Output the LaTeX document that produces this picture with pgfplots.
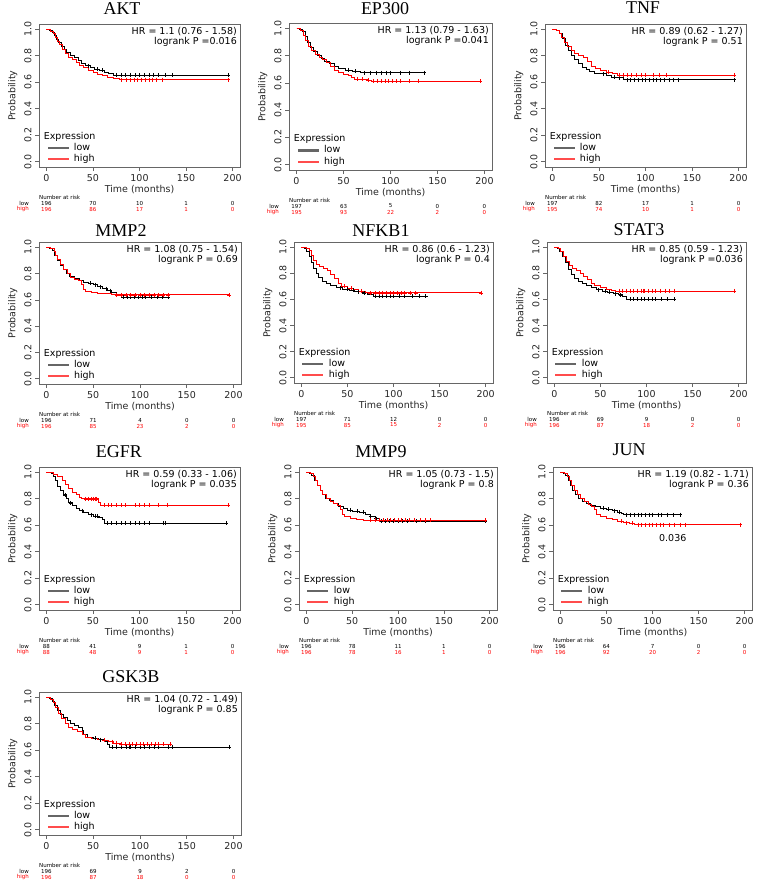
\documentclass[border=0pt]{standalone}
\usepackage{pgfplots}
\pgfplotsset{compat=1.18}
\usepackage{fontspec}
\setmainfont{DejaVu Sans}
\newfontfamily\titlefont{Liberation Serif}
\definecolor{kmred}{RGB}{255,0,0}

\tikzset{
  exprnode/.style={anchor=west, inner sep=0pt, font=\fontsize{9.5}{11}\selectfont},
  hrnode/.style={anchor=north east, align=right, inner sep=0pt, xshift=-3pt, yshift=-3pt, font=\fontsize{9.5}{10.5}\selectfont},
  riskt/.style={inner sep=0pt, font=\fontsize{5.5}{6}\selectfont},
  ttl/.style={inner sep=0pt, font=\titlefont\fontsize{18}{20}\selectfont},
}

\pgfplotsset{
  km/.style={
    scale only axis, anchor=north west, clip=false,
    xmin=-8, xmax=208, ymin=-0.04, ymax=1.04,
    xtick={0,50,100,150,200}, ytick={0,0.2,0.4,0.6,0.8,1},
    tick align=outside, tick pos=left,
    major tick length=4pt,
    axis line style={black!60, line width=0.6pt},
    tick style={black!60, line width=0.6pt},
    /pgf/number format/assume math mode=true,
    tick label style={font=\fontsize{9.5}{11}\selectfont, text=black!85},
    yticklabel style={rotate=90, anchor=south, /pgf/number format/fixed, /pgf/number format/fixed zerofill, /pgf/number format/precision=1},
    xlabel={Time (months)}, ylabel={Probability},
    label style={font=\fontsize{9.5}{11}\selectfont, text=black!85},
    xlabel style={yshift=3pt},
    legend style={at={(axis cs:1,0.065)}, anchor=west, draw=none, fill=none, inner sep=0pt, row sep=-1.5pt, font=\fontsize{9.5}{10}\selectfont, /tikz/every odd column/.append style={column sep=4pt}},
    legend cell align=left,
    legend image code/.code={\fill[#1] (0pt,-0.6pt) rectangle (20pt,0.6pt);},
  },
  lowc/.style={black, line width=0.9pt, const plot, forget plot},
  highc/.style={kmred, line width=0.9pt, const plot, forget plot},
  lowm/.style={black, only marks, mark=+, mark size=2pt, mark options={line width=0.5pt}, forget plot},
  highm/.style={kmred, only marks, mark=+, mark size=2pt, mark options={line width=0.5pt}, forget plot},
}

\newcommand\kmlegend{%
  \addlegendimage{black!60}\addlegendentry{low}
  \addlegendimage{kmred!70}\addlegendentry{high}
}
\newcommand\riskhead{\node[riskt, anchor=west, yshift=-30pt] at (rel axis cs:0,0) {Number at risk};}
\newcommand\risklow[5]{%
  \node[riskt, anchor=east, xshift=-10pt, yshift=-36pt] at (rel axis cs:0,0) {low};
  \node[riskt, yshift=-36pt] at (axis cs:0,-0.04) {#1};
  \node[riskt, yshift=-36pt] at (axis cs:50,-0.04) {#2};
  \node[riskt, yshift=-36pt] at (axis cs:100,-0.04) {#3};
  \node[riskt, yshift=-36pt] at (axis cs:150,-0.04) {#4};
  \node[riskt, yshift=-36pt] at (axis cs:200,-0.04) {#5};
}
\newcommand\riskhigh[5]{%
  \node[riskt, text=kmred, anchor=east, xshift=-10pt, yshift=-42pt] at (rel axis cs:0,0) {high};
  \node[riskt, text=kmred, yshift=-42pt] at (axis cs:0,-0.04) {#1};
  \node[riskt, text=kmred, yshift=-42pt] at (axis cs:50,-0.04) {#2};
  \node[riskt, text=kmred, yshift=-42pt] at (axis cs:100,-0.04) {#3};
  \node[riskt, text=kmred, yshift=-42pt] at (axis cs:150,-0.04) {#4};
  \node[riskt, text=kmred, yshift=-42pt] at (axis cs:200,-0.04) {#5};
}

\begin{document}
\begin{tikzpicture}
\path[use as bounding box] (0pt,0pt) rectangle (768pt,-884pt);

% titles
\node[ttl] at (122pt,-9pt) {AKT};
\node[ttl] at (385pt,-9pt) {EP300};
\node[ttl] at (643pt,-8pt) {TNF};
\node[ttl] at (121pt,-231pt) {MMP2};
\node[ttl] at (381pt,-231pt) {NFKB1};
\node[ttl] at (639pt,-230pt) {STAT3};
\node[ttl] at (119pt,-452pt) {EGFR};
\node[ttl] at (381pt,-452pt) {MMP9};
\node[ttl] at (629pt,-450pt) {JUN};
\node[ttl] at (131pt,-677pt) {GSK3B};

% ---------------- AKT
\begin{axis}[km, at={(39pt,-24pt)}, width=201pt, height=143pt]
\kmlegend
\addplot[lowc] coordinates {(0,1)(3,0.99)(6,0.975)(9,0.95)(11,0.92)(13,0.90)(16,0.87)(19,0.845)(22,0.825)(26,0.805)(30,0.785)(34,0.765)(38,0.745)(42,0.725)(47,0.71)(52,0.70)(57,0.69)(62,0.675)(67,0.665)(72,0.655)(195,0.655)};
\addplot[highc] coordinates {(0,1)(4,0.985)(8,0.97)(10,0.94)(12,0.91)(14,0.885)(17,0.85)(20,0.82)(24,0.79)(28,0.77)(32,0.75)(36,0.73)(40,0.71)(45,0.69)(50,0.675)(55,0.66)(60,0.65)(66,0.64)(72,0.63)(78,0.62)(195,0.62)};
\addplot[lowm] coordinates {(45,0.725)(55,0.70)(60,0.69)(75,0.655)(80,0.655)(85,0.655)(90,0.655)(95,0.655)(100,0.655)(105,0.655)(110,0.655)(115,0.655)(120,0.655)(128,0.655)(135,0.655)(195,0.655)};
\addplot[highm] coordinates {(80,0.62)(86,0.62)(90,0.62)(94,0.62)(98,0.62)(102,0.62)(106,0.62)(110,0.62)(114,0.62)(118,0.62)(124,0.62)(195,0.62)};
\node[exprnode] at (axis cs:-3,0.19) {Expression};
\node[hrnode] at (rel axis cs:1,1) {HR = 1.1 (0.76 - 1.58)\\logrank P =0.016};
\riskhead
\risklow{196}{70}{10}{1}{0}
\riskhigh{196}{86}{17}{1}{0}
\end{axis}

% ---------------- EP300
\begin{axis}[km, at={(289pt,-23pt)}, width=203pt, height=147pt]
\kmlegend
\addplot[lowc] coordinates {(0,1)(3,0.99)(6,0.975)(9,0.94)(12,0.90)(15,0.86)(18,0.83)(22,0.80)(26,0.78)(30,0.76)(35,0.74)(40,0.72)(45,0.705)(52,0.695)(60,0.685)(68,0.675)(136,0.675)};
\addplot[highc] coordinates {(0,1)(4,0.985)(7,0.95)(10,0.91)(13,0.87)(16,0.84)(20,0.81)(24,0.79)(28,0.77)(32,0.75)(36,0.72)(40,0.69)(45,0.675)(50,0.665)(55,0.655)(58,0.64)(62,0.625)(75,0.62)(80,0.613)(195,0.613)};
\addplot[lowm] coordinates {(55,0.695)(62,0.685)(72,0.675)(78,0.675)(85,0.675)(90,0.675)(95,0.675)(100,0.675)(110,0.675)(120,0.675)(136,0.675)};
\addplot[highm] coordinates {(65,0.625)(70,0.625)(76,0.62)(82,0.613)(86,0.613)(90,0.613)(94,0.613)(98,0.613)(102,0.613)(106,0.613)(110,0.613)(120,0.613)(130,0.613)(195,0.613)};
\node[exprnode] at (axis cs:-3,0.19) {Expression};
\node[hrnode] at (rel axis cs:1,1) {HR = 1.13 (0.79 - 1.63)\\logrank P =0.041};
\riskhead
\risklow{197}{63}{5}{0}{0}
\riskhigh{195}{93}{22}{2}{0}
\end{axis}

% ---------------- TNF
\begin{axis}[km, at={(545pt,-24pt)}, width=201pt, height=143pt]
\kmlegend
\addplot[lowc] coordinates {(0,1)(4,0.99)(8,0.97)(11,0.93)(14,0.88)(17,0.84)(20,0.80)(24,0.77)(28,0.74)(32,0.715)(36,0.70)(40,0.685)(45,0.67)(50,0.665)(58,0.655)(63,0.64)(70,0.635)(76,0.62)(195,0.62)};
\addplot[highc] coordinates {(0,1)(4,0.99)(7,0.97)(10,0.94)(13,0.90)(16,0.87)(20,0.84)(24,0.815)(28,0.80)(33,0.785)(38,0.76)(42,0.72)(46,0.705)(52,0.69)(58,0.675)(64,0.665)(70,0.655)(195,0.655)};
\addplot[lowm] coordinates {(55,0.665)(66,0.64)(72,0.635)(80,0.62)(84,0.62)(88,0.62)(92,0.62)(96,0.62)(100,0.62)(104,0.62)(108,0.62)(112,0.62)(116,0.62)(120,0.62)(125,0.62)(130,0.62)(135,0.62)(195,0.62)};
\addplot[highm] coordinates {(60,0.675)(72,0.655)(76,0.655)(80,0.655)(85,0.655)(90,0.655)(95,0.655)(100,0.655)(108,0.655)(115,0.655)(122,0.655)(195,0.655)};
\node[exprnode] at (axis cs:-3,0.19) {Expression};
\node[hrnode] at (rel axis cs:1,1) {HR = 0.89 (0.62 - 1.27)\\logrank P = 0.51};
\riskhead
\risklow{197}{82}{17}{1}{0}
\riskhigh{195}{74}{10}{1}{0}
\end{axis}

% ---------------- MMP2
\begin{axis}[km, at={(39pt,-242pt)}, width=202pt, height=142pt]
\kmlegend
\addplot[lowc] coordinates {(0,1)(3,0.99)(6,0.975)(9,0.94)(12,0.90)(15,0.86)(18,0.83)(21,0.80)(25,0.78)(30,0.76)(35,0.745)(40,0.735)(45,0.725)(50,0.715)(55,0.70)(60,0.685)(65,0.67)(70,0.655)(75,0.64)(80,0.62)(130,0.62)};
\addplot[highc] coordinates {(0,1)(4,0.99)(8,0.97)(10,0.94)(12,0.91)(15,0.87)(18,0.83)(22,0.80)(26,0.77)(30,0.755)(34,0.745)(37,0.72)(39,0.68)(42,0.665)(48,0.655)(55,0.65)(62,0.645)(70,0.638)(195,0.638)};
\addplot[lowm] coordinates {(47,0.725)(52,0.715)(58,0.70)(64,0.685)(68,0.67)(82,0.62)(86,0.62)(90,0.62)(94,0.62)(98,0.62)(102,0.62)(106,0.62)(112,0.62)(118,0.62)(124,0.62)(130,0.62)};
\addplot[highm] coordinates {(75,0.638)(80,0.638)(85,0.638)(90,0.638)(95,0.638)(100,0.638)(105,0.638)(110,0.638)(115,0.638)(120,0.638)(125,0.638)(130,0.638)(195,0.638)};
\node[exprnode] at (axis cs:-3,0.19) {Expression};
\node[hrnode] at (rel axis cs:1,1) {HR = 1.08 (0.75 - 1.54)\\logrank P = 0.69};
\riskhead
\risklow{196}{71}{4}{0}{0}
\riskhigh{196}{85}{23}{2}{0}
\end{axis}

% ---------------- NFKB1
\begin{axis}[km, at={(294pt,-242pt)}, width=199pt, height=141pt]
\kmlegend
\addplot[lowc] coordinates {(0,1)(3,0.99)(6,0.97)(9,0.93)(11,0.88)(13,0.84)(16,0.80)(19,0.77)(23,0.74)(27,0.72)(32,0.705)(38,0.69)(45,0.68)(52,0.67)(58,0.66)(65,0.65)(72,0.64)(78,0.625)(135,0.625)};
\addplot[highc] coordinates {(0,1)(5,0.99)(9,0.975)(11,0.94)(13,0.90)(16,0.87)(20,0.855)(24,0.84)(28,0.82)(32,0.79)(36,0.76)(40,0.72)(44,0.70)(50,0.685)(56,0.675)(62,0.665)(70,0.65)(195,0.65)};
\addplot[lowm] coordinates {(42,0.69)(50,0.68)(56,0.67)(62,0.66)(68,0.65)(80,0.625)(84,0.625)(88,0.625)(92,0.625)(96,0.625)(100,0.625)(106,0.625)(112,0.625)(120,0.625)(128,0.625)(135,0.625)};
\addplot[highm] coordinates {(47,0.70)(54,0.685)(65,0.665)(75,0.65)(80,0.65)(84,0.65)(88,0.65)(92,0.65)(96,0.65)(100,0.65)(104,0.65)(108,0.65)(112,0.65)(118,0.65)(124,0.65)(195,0.65)};
\node[exprnode] at (axis cs:-3,0.19) {Expression};
\node[hrnode] at (rel axis cs:1,1) {HR = 0.86 (0.6 - 1.23)\\logrank P = 0.4};
\riskhead
\risklow{197}{71}{12}{0}{0}
\riskhigh{195}{85}{15}{2}{0}
\end{axis}

% ---------------- STAT3
\begin{axis}[km, at={(547pt,-242pt)}, width=199pt, height=141pt]
\kmlegend
\addplot[lowc] coordinates {(0,1)(3,0.99)(6,0.97)(9,0.93)(12,0.88)(15,0.83)(18,0.79)(22,0.76)(26,0.735)(30,0.72)(35,0.705)(40,0.69)(46,0.675)(52,0.665)(58,0.655)(64,0.645)(70,0.635)(74,0.625)(78,0.60)(130,0.60)};
\addplot[highc] coordinates {(0,1)(4,0.99)(7,0.965)(10,0.93)(13,0.89)(16,0.86)(20,0.835)(24,0.82)(28,0.80)(32,0.78)(36,0.755)(40,0.72)(44,0.705)(50,0.69)(56,0.68)(62,0.67)(66,0.665)(195,0.665)};
\addplot[lowm] coordinates {(48,0.675)(55,0.665)(60,0.655)(66,0.645)(72,0.635)(82,0.60)(86,0.60)(90,0.60)(94,0.60)(98,0.60)(102,0.60)(106,0.60)(110,0.60)(116,0.60)(122,0.60)(130,0.60)};
\addplot[highm] coordinates {(70,0.665)(74,0.665)(78,0.665)(82,0.665)(86,0.665)(90,0.665)(94,0.665)(96,0.665)(98,0.665)(102,0.665)(106,0.665)(110,0.665)(115,0.665)(120,0.665)(125,0.665)(130,0.665)(195,0.665)};
\node[exprnode] at (axis cs:-3,0.19) {Expression};
\node[hrnode] at (rel axis cs:1,1) {HR = 0.85 (0.59 - 1.23)\\logrank P =0.036};
\riskhead
\risklow{196}{69}{9}{0}{0}
\riskhigh{196}{87}{18}{2}{0}
\end{axis}

% ---------------- EGFR
\begin{axis}[km, at={(39pt,-467pt)}, width=201pt, height=143pt]
\kmlegend
\addplot[lowc] coordinates {(0,1)(5,0.99)(8,0.97)(10,0.94)(12,0.89)(15,0.86)(18,0.83)(21,0.80)(24,0.77)(28,0.75)(32,0.73)(36,0.71)(40,0.695)(45,0.68)(50,0.67)(56,0.66)(60,0.645)(62,0.615)(193,0.615)};
\addplot[highc] coordinates {(0,1)(8,0.985)(12,0.97)(17,0.94)(20,0.91)(24,0.88)(28,0.85)(32,0.83)(36,0.81)(38,0.80)(56,0.77)(58,0.75)(195,0.75)};
\addplot[lowm] coordinates {(20,0.83)(26,0.77)(38,0.71)(48,0.68)(52,0.67)(55,0.67)(65,0.615)(70,0.615)(75,0.615)(80,0.615)(85,0.615)(90,0.615)(95,0.615)(100,0.615)(105,0.615)(110,0.615)(125,0.615)(128,0.615)(193,0.615)};
\addplot[highm] coordinates {(42,0.80)(45,0.80)(48,0.80)(50,0.80)(52,0.80)(54,0.80)(62,0.75)(66,0.75)(70,0.75)(75,0.75)(80,0.75)(85,0.75)(95,0.75)(100,0.75)(105,0.75)(110,0.75)(120,0.75)(130,0.75)(195,0.75)};
\node[exprnode] at (axis cs:-3,0.19) {Expression};
\node[hrnode] at (rel axis cs:1,1) {HR = 0.59 (0.33 - 1.06)\\logrank P = 0.035};
\riskhead
\risklow{88}{41}{9}{1}{0}
\riskhigh{88}{48}{9}{1}{0}
\end{axis}

% ---------------- MMP9
\begin{axis}[km, at={(299pt,-467pt)}, width=198pt, height=143pt]
\kmlegend
\addplot[lowc] coordinates {(0,1)(3,0.99)(6,0.975)(9,0.94)(12,0.90)(15,0.86)(18,0.83)(21,0.80)(25,0.785)(30,0.765)(35,0.745)(40,0.73)(45,0.715)(50,0.705)(58,0.70)(65,0.68)(70,0.665)(75,0.65)(80,0.632)(195,0.632)};
\addplot[highc] coordinates {(0,1)(4,0.99)(8,0.97)(10,0.94)(12,0.90)(15,0.86)(18,0.83)(22,0.80)(26,0.78)(30,0.765)(34,0.75)(37,0.72)(39,0.68)(42,0.665)(48,0.655)(55,0.645)(62,0.638)(195,0.638)};
\addplot[lowm] coordinates {(48,0.715)(55,0.705)(62,0.70)(70,0.665)(76,0.65)(82,0.632)(86,0.632)(90,0.632)(95,0.632)(100,0.632)(105,0.632)(110,0.632)(120,0.632)(130,0.632)(195,0.632)};
\addplot[highm] coordinates {(70,0.638)(75,0.638)(80,0.638)(84,0.638)(88,0.638)(92,0.638)(96,0.638)(100,0.638)(104,0.638)(108,0.638)(112,0.638)(118,0.638)(124,0.638)(130,0.638)(135,0.638)(195,0.638)};
\node[exprnode] at (axis cs:-3,0.19) {Expression};
\node[hrnode] at (rel axis cs:1,1) {HR = 1.05 (0.73 - 1.5)\\logrank P = 0.8};
\riskhead
\risklow{196}{78}{11}{1}{0}
\riskhigh{196}{78}{16}{1}{0}
\end{axis}

% ---------------- JUN
\begin{axis}[km, at={(553pt,-467pt)}, width=199pt, height=143pt]
\kmlegend
\addplot[lowc] coordinates {(0,1)(3,0.99)(6,0.975)(9,0.94)(11,0.90)(13,0.86)(16,0.83)(20,0.80)(24,0.78)(28,0.765)(33,0.75)(38,0.74)(44,0.73)(50,0.72)(56,0.71)(62,0.70)(66,0.69)(68,0.68)(130,0.68)};
\addplot[highc] coordinates {(0,1)(4,0.99)(8,0.97)(10,0.94)(12,0.90)(15,0.86)(18,0.83)(22,0.80)(26,0.78)(30,0.76)(34,0.745)(37,0.72)(39,0.68)(44,0.665)(50,0.655)(56,0.645)(62,0.63)(68,0.62)(75,0.615)(80,0.605)(195,0.605)};
\addplot[lowm] coordinates {(46,0.73)(52,0.72)(58,0.71)(64,0.70)(72,0.68)(76,0.68)(80,0.68)(84,0.68)(88,0.68)(92,0.68)(96,0.68)(100,0.68)(106,0.68)(110,0.68)(116,0.68)(122,0.68)(130,0.68)};
\addplot[highm] coordinates {(66,0.63)(72,0.62)(78,0.615)(84,0.605)(88,0.605)(92,0.605)(96,0.605)(100,0.605)(104,0.605)(108,0.605)(112,0.605)(118,0.605)(124,0.605)(130,0.605)(135,0.605)(195,0.605)};
\node[exprnode] at (axis cs:-3,0.19) {Expression};
\node[hrnode] at (rel axis cs:1,1) {HR = 1.19 (0.82 - 1.71)\\logrank P = 0.36};
\node[font=\fontsize{9.5}{11}\selectfont, inner sep=0pt] at (axis cs:122,0.50) {0.036};
\riskhead
\risklow{196}{64}{7}{0}{0}
\riskhigh{196}{92}{20}{2}{0}
\end{axis}

% ---------------- GSK3B
\begin{axis}[km, at={(39pt,-692pt)}, width=202pt, height=143pt]
\kmlegend
\addplot[lowc] coordinates {(0,1)(3,0.99)(6,0.97)(9,0.94)(12,0.90)(15,0.87)(18,0.845)(22,0.825)(26,0.805)(30,0.79)(34,0.77)(38,0.75)(40,0.72)(44,0.70)(50,0.69)(56,0.68)(62,0.665)(65,0.645)(67,0.625)(195,0.625)};
\addplot[highc] coordinates {(0,1)(4,0.985)(7,0.96)(10,0.92)(13,0.88)(16,0.84)(20,0.80)(24,0.775)(28,0.755)(33,0.74)(38,0.72)(42,0.70)(48,0.69)(54,0.68)(60,0.675)(66,0.665)(72,0.655)(80,0.645)(132,0.645)};
\addplot[lowm] coordinates {(52,0.69)(58,0.68)(70,0.625)(75,0.625)(80,0.625)(85,0.625)(88,0.625)(90,0.625)(95,0.625)(100,0.625)(105,0.625)(110,0.625)(115,0.625)(120,0.625)(130,0.625)(135,0.625)(195,0.625)};
\addplot[highm] coordinates {(62,0.675)(70,0.665)(75,0.655)(80,0.645)(84,0.645)(88,0.645)(92,0.645)(96,0.645)(100,0.645)(104,0.645)(108,0.645)(112,0.645)(116,0.645)(120,0.645)(125,0.645)(132,0.645)};
\node[exprnode] at (axis cs:-3,0.19) {Expression};
\node[hrnode] at (rel axis cs:1,1) {HR = 1.04 (0.72 - 1.49)\\logrank P = 0.85};
\riskhead
\risklow{196}{69}{9}{2}{0}
\riskhigh{196}{87}{18}{0}{0}
\end{axis}
\end{tikzpicture}
\end{document}
